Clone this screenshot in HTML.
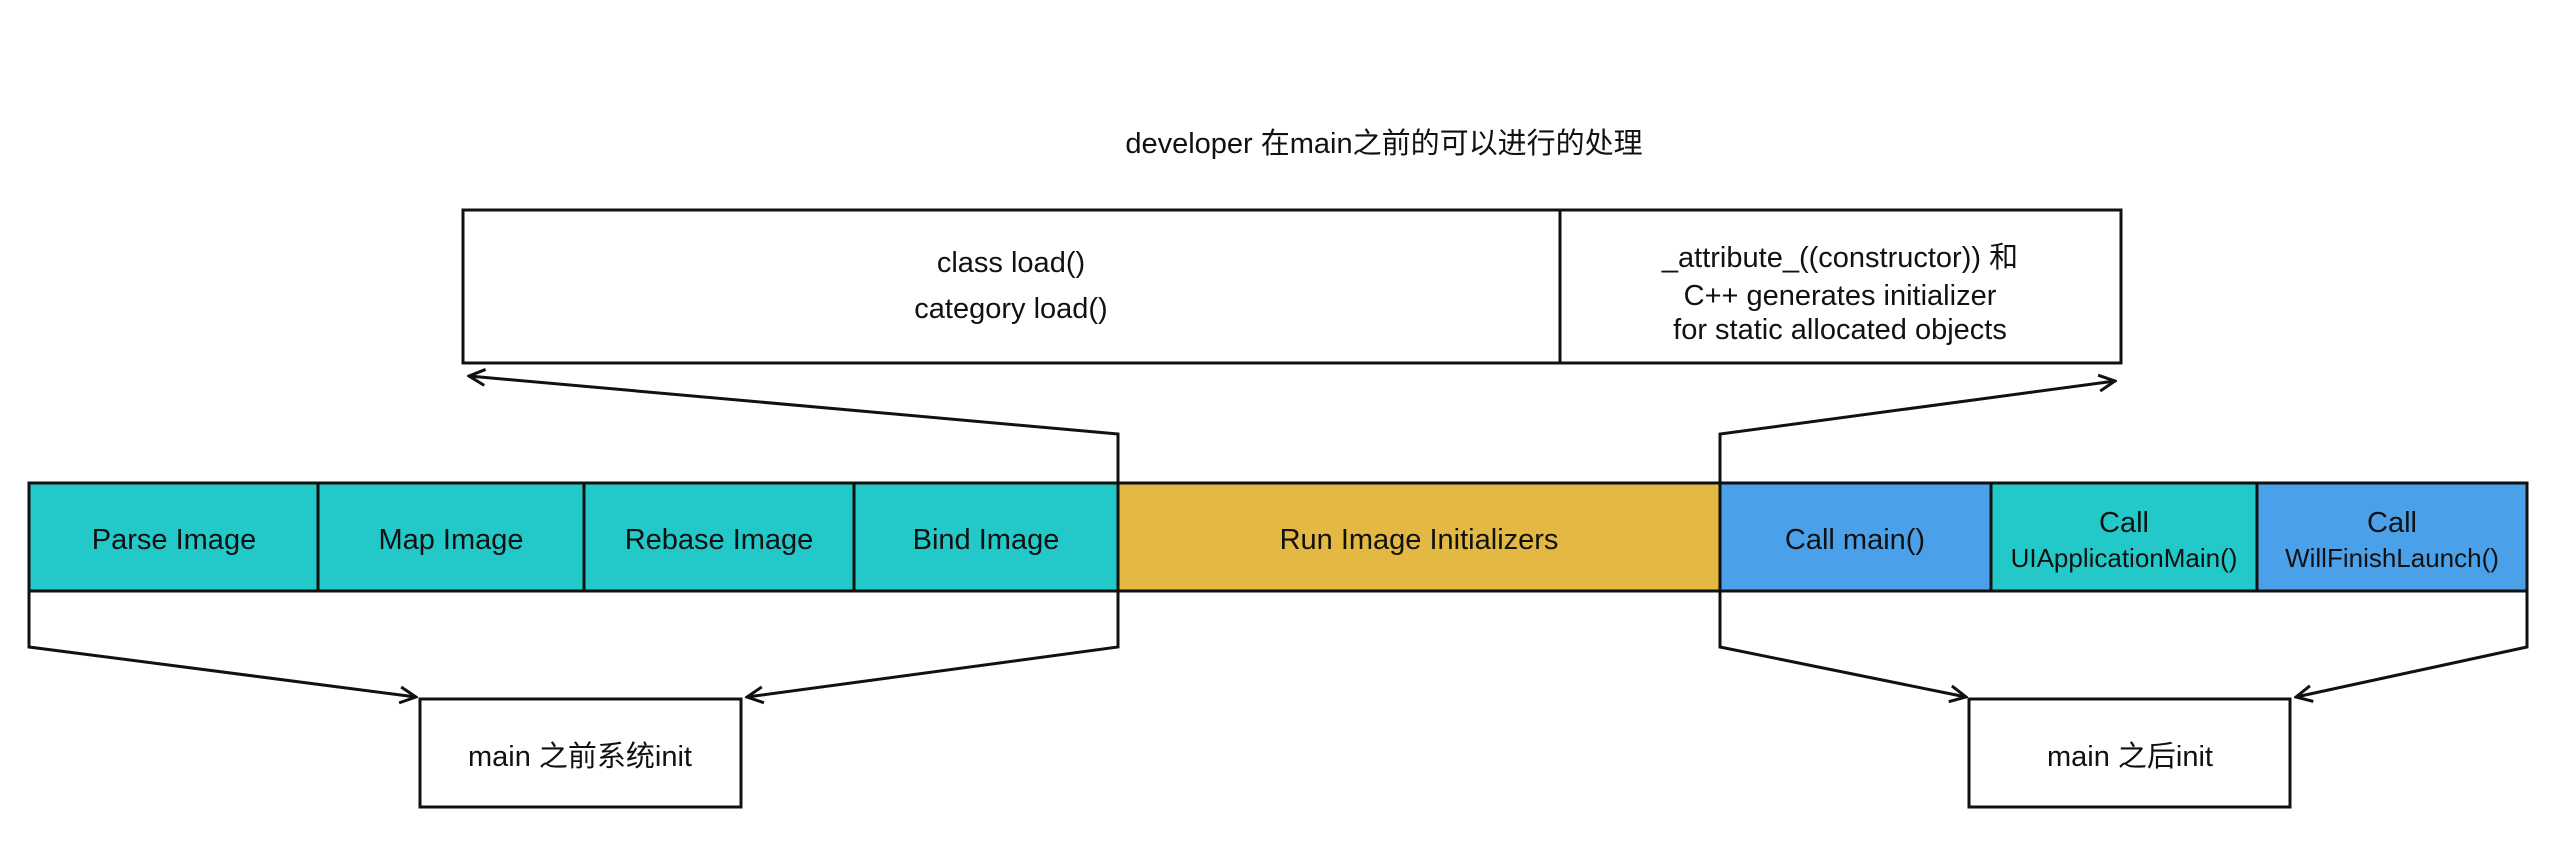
<!DOCTYPE html>
<html><head><meta charset="utf-8"><style>
html,body{margin:0;padding:0;background:#fff;}
svg text{font-family:"Liberation Sans","Noto Sans CJK SC",sans-serif;font-size:29px;fill:#111;text-anchor:middle;}
</style></head><body>
<svg width="2554" height="860" viewBox="0 0 2554 860" xmlns="http://www.w3.org/2000/svg">
<defs>
<marker id="a" viewBox="0 0 20 20" refX="18" refY="10" markerWidth="20" markerHeight="20" markerUnits="userSpaceOnUse" orient="auto">
<path d="M2,2 L18,10 L2,18" fill="none" stroke="#111" stroke-width="3"/>
</marker>
</defs>
<text x="1384" y="153">developer 在main之前的可以进行的处理</text>
<!-- top box -->
<rect x="463" y="210" width="1658" height="153" fill="#fff" stroke="#111" stroke-width="3"/>
<line x1="1560" y1="210" x2="1560" y2="363" stroke="#111" stroke-width="3"/>
<text x="1011" y="272">class load()</text>
<text x="1011" y="318">category load()</text>
<text x="1840" y="267">_attribute_((constructor)) 和</text>
<text x="1840" y="305">C++ generates initializer</text>
<text x="1840" y="339">for static allocated objects</text>
<!-- bar -->
<rect x="29" y="483" width="1089" height="108" fill="#23c8c9"/>
<rect x="1118" y="483" width="602" height="108" fill="#e3b843"/>
<rect x="1720" y="483" width="271" height="108" fill="#4aa1ea"/>
<rect x="1991" y="483" width="266" height="108" fill="#23c8c9"/>
<rect x="2257" y="483" width="270" height="108" fill="#4aa1ea"/>
<rect x="29" y="483" width="2498" height="108" fill="none" stroke="#111" stroke-width="3"/>
<g stroke="#111" stroke-width="3">
<line x1="318" y1="483" x2="318" y2="591"/><line x1="584" y1="483" x2="584" y2="591"/>
<line x1="854" y1="483" x2="854" y2="591"/><line x1="1118" y1="483" x2="1118" y2="591"/>
<line x1="1720" y1="483" x2="1720" y2="591"/><line x1="1991" y1="483" x2="1991" y2="591"/>
<line x1="2257" y1="483" x2="2257" y2="591"/>
</g>
<text x="174" y="549">Parse Image</text>
<text x="451" y="549">Map Image</text>
<text x="719" y="549">Rebase Image</text>
<text x="986" y="549">Bind Image</text>
<text x="1419" y="549">Run Image Initializers</text>
<text x="1855" y="549">Call main()</text>
<text x="2124" y="532">Call</text>
<text x="2124" y="567" style="font-size:26px">UIApplicationMain()</text>
<text x="2392" y="532">Call</text>
<text x="2392" y="567" style="font-size:26px">WillFinishLaunch()</text>
<!-- connectors -->
<g fill="none" stroke="#111" stroke-width="3" marker-end="url(#a)">
<polyline points="1118,483 1118,434 469,376"/>
<polyline points="1720,483 1720,434 2115,381"/>
<polyline points="29,591 29,647 416,697"/>
<polyline points="1118,591 1118,647 747,697"/>
<polyline points="1720,591 1720,647 1966,697"/>
<polyline points="2527,591 2527,647 2296,697"/>
</g>
<rect x="420" y="699" width="321" height="108" fill="#fff" stroke="#111" stroke-width="3"/>
<text x="580" y="766">main 之前系统init</text>
<rect x="1969" y="699" width="321" height="108" fill="#fff" stroke="#111" stroke-width="3"/>
<text x="2130" y="766">main 之后init</text>
</svg>
</body></html>
